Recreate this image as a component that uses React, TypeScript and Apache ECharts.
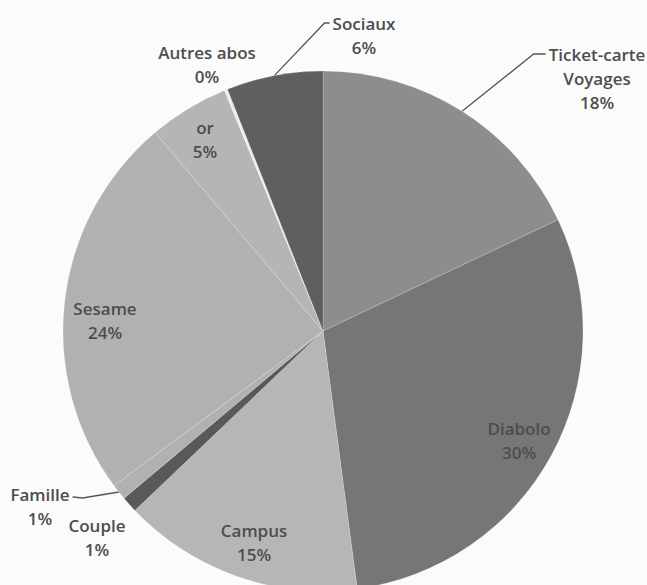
import React, { useEffect, useRef } from "react";
import * as echarts from "echarts";

// Categories (clockwise from 12 o'clock)
const categories = [
  "Ticket-carte\nVoyages",
  "Diabolo",
  "Campus",
  "Couple",
  "Famille",
  "Sesame",
  "or",
  "Autres abos",
  "Sociaux",
];
// Shares in percent
const shares = [18, 30, 15, 1, 1, 24, 5, 0.2, 6];
const sliceColors = [
  "#8d8d8d",
  "#767676",
  "#b6b6b6",
  "#595959",
  "#b1b1b1",
  "#b1b1b1",
  "#b5b5b5",
  "#eeeeee",
  "#5f5f5f",
];
// label placement: "inside", "outside" (with leader line), "free" (no leader)
const labelKinds = ["outside", "inside", "inside", "free", "outside", "inside", "inside", "free", "outside"];
// label centres (px)
const labelCentres: number[][] = [
  [597, 78],
  [519, 440],
  [254, 542],
  [97, 537],
  [40, 506],
  [105, 320],
  [205, 139],
  [207, 64],
  [364, 35],
];
const leaderSide = ["left", "", "", "", "right", "", "", "", "left"];

const LINE_H = 24;

export default function App() {
  const ref = useRef<HTMLDivElement>(null);
  useEffect(() => {
    if (!ref.current) return;
    const chart = echarts.init(ref.current, null, { renderer: "svg" });
    const data = categories.map((name, i) => ({
      name,
      value: shares[i],
      itemStyle: { color: sliceColors[i] },
      label: {
        show: true,
        position: labelKinds[i] === "inside" ? "inside" : "outside",
      },
      labelLine: { show: labelKinds[i] === "outside" },
    }));
    chart.setOption({
      animation: false,
      backgroundColor: "#fbfbfb",
      series: [
        {
          type: "pie",
          center: [323, 331],
          radius: 260,
          startAngle: 90,
          clockwise: true,
          avoidLabelOverlap: false,
          minShowLabelAngle: 0,
          silent: true,
          itemStyle: { borderColor: "rgba(255,255,255,0.3)", borderWidth: 0.6 },
          label: {
            fontFamily: "Open Sans",
            fontSize: 17,
            fontWeight: 600,
            color: "#4d4d4d",
            lineHeight: LINE_H,
            align: "center",
            formatter: (p: any) => `${p.name}\n${Math.round(p.value)}%`,
          },
          labelLine: {
            lineStyle: { color: "#555555", width: 1.3 },
          },
          labelLayout: (params: any) => {
            const i = params.dataIndex;
            const [cx, cy] = labelCentres[i];
            const w = params.labelRect.width;
            const h = params.labelRect.height;
            const res: any = { x: cx, y: cy, align: "center", verticalAlign: "middle" };
            const pts = params.labelLinePoints;
            if (labelKinds[i] === "outside" && pts && pts.length) {
              const start = pts[0];
              const top = cy - h / 2;
              const y1 = top + LINE_H / 2;
              if (leaderSide[i] === "left") {
                const endX = cx - w / 2 - 3;
                const midX = endX - (i === 0 ? 12 : 5);
                res.labelLinePoints = [start, [midX, y1], [endX, y1]];
              } else {
                const endX = cx + w / 2 + 3;
                res.labelLinePoints = [start, [endX + 10, y1 + 4], [endX, y1 + 3]];
              }
            }
            return res;
          },
          data,
        },
      ],
    });
    return () => chart.dispose();
  }, []);
  return (
    <div
      ref={ref}
      style={{ position: "absolute", left: 0, top: 0, width: 647, height: 585 }}
    />
  );
}
